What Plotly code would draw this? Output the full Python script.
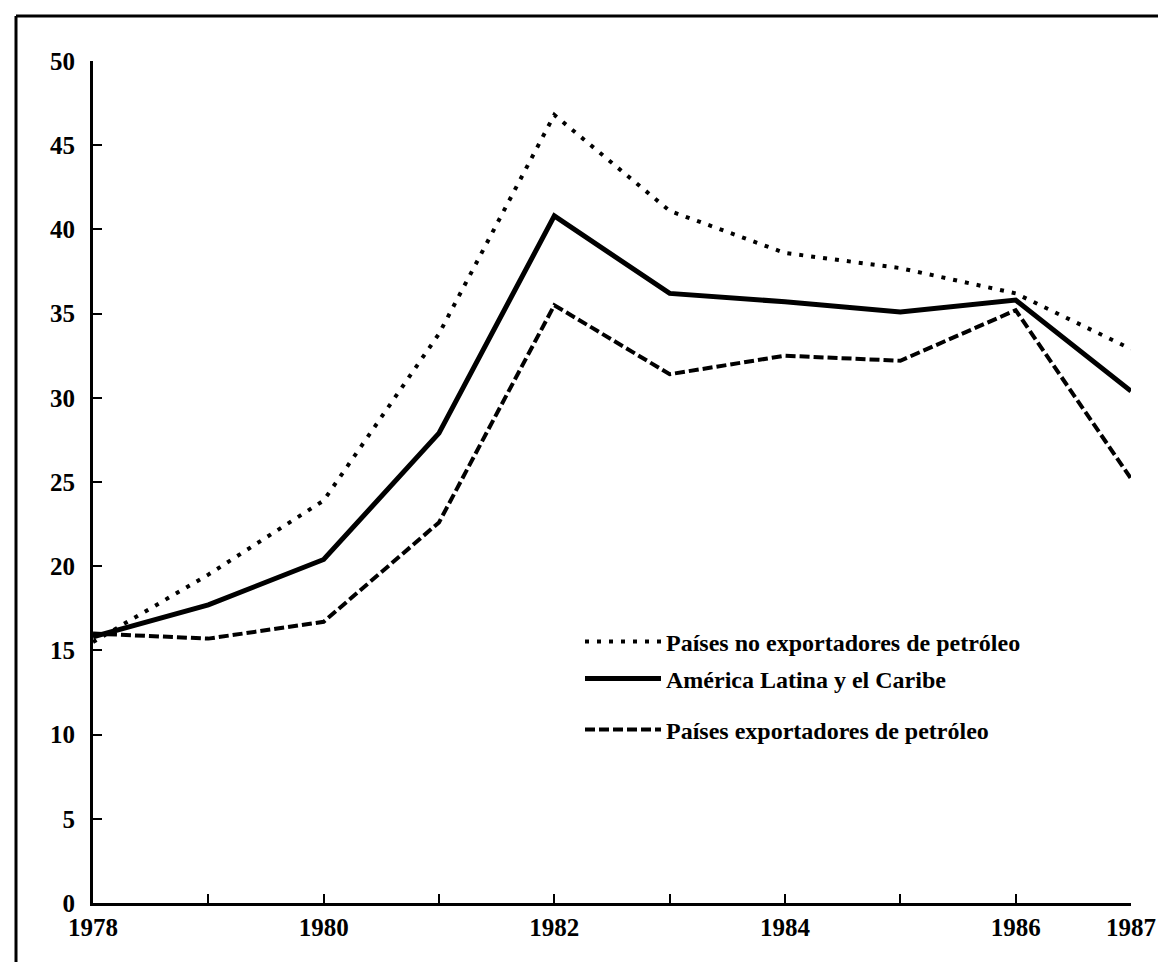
import plotly.graph_objects as go

years = [1978, 1979, 1980, 1981, 1982, 1983, 1984, 1985, 1986, 1987]
no_exportadores = [15.5, 19.5, 23.9, 33.8, 46.8, 41.1, 38.6, 37.7, 36.2, 32.9]
america_latina = [15.8, 17.7, 20.4, 27.9, 40.8, 36.2, 35.7, 35.1, 35.8, 30.4]
exportadores = [16.0, 15.7, 16.7, 22.6, 35.5, 31.4, 32.5, 32.2, 35.2, 25.2]

names = ["Países no exportadores de petróleo",
         "América Latina y el Caribe",
         "Países exportadores de petróleo"]

x_tickvals = years
x_ticktext = ["1978", "", "1980", "", "1982", "", "1984", "", "1986", "1987"]
y_tickvals = [0, 5, 10, 15, 20, 25, 30, 35, 40, 45, 50]

W, H = 1166, 962
L, R, T, B = 85, 43, 53, 67
pw, ph = W - L - R, H - T - B

def px2paper(px, py):
    return (px - L) / pw, (H - B - py) / ph

FAM = "Liberation Serif, Times New Roman, serif"
tick_font = dict(family=FAM, size=25, color="black", weight="bold")
leg_font = dict(family=FAM, size=24, color="black", weight="bold")

fig = go.Figure()
fig.add_trace(go.Scatter(x=years, y=no_exportadores, mode="lines", name=names[0],
                         line=dict(color="black", width=4, dash="4px,8px"), legend="legend"))
fig.add_trace(go.Scatter(x=years, y=america_latina, mode="lines", name=names[1],
                         line=dict(color="black", width=5), legend="legend2"))
fig.add_trace(go.Scatter(x=years, y=exportadores, mode="lines", name=names[2],
                         line=dict(color="black", width=4, dash="10px,4px"), legend="legend3"))

leg_common = dict(xanchor="left", yanchor="middle", bgcolor="rgba(0,0,0,0)",
                  itemwidth=76, font=leg_font)
lx, ly1 = px2paper(572, 634)
_, ly2 = px2paper(572, 671)
_, ly3 = px2paper(572, 722)

fig.update_layout(
    width=W, height=H,
    paper_bgcolor="white", plot_bgcolor="white",
    margin=dict(l=L, r=R, t=T, b=B),
    showlegend=True,
    legend=dict(x=lx, y=ly1, **leg_common),
    legend2=dict(x=lx, y=ly2, **leg_common),
    legend3=dict(x=lx, y=ly3, **leg_common),
    xaxis=dict(range=[1978, 1987], tickmode="array", tickvals=x_tickvals, ticktext=x_ticktext,
               showline=True, linecolor="black", linewidth=3, ticks="inside", ticklen=9,
               tickwidth=2, tickcolor="black", showgrid=False, zeroline=False,
               tickfont=tick_font, ticklabelstandoff=0),
    yaxis=dict(range=[0, 50], tickmode="array", tickvals=y_tickvals,
               showline=True, linecolor="black", linewidth=3, ticks="inside", ticklen=9,
               tickwidth=2, tickcolor="black", showgrid=False, zeroline=False,
               tickfont=tick_font, ticklabelstandoff=10),
)

# scan frame (top and left border)
fig.add_shape(type="line", xref="paper", yref="paper",
              x0=px2paper(8, 0)[0], x1=px2paper(W, 0)[0],
              y0=px2paper(0, 8)[1], y1=px2paper(0, 8)[1],
              line=dict(color="black", width=3))
fig.add_shape(type="line", xref="paper", yref="paper",
              x0=px2paper(8, 0)[0], x1=px2paper(8, 0)[0],
              y0=px2paper(0, 8)[1], y1=px2paper(0, H)[1],
              line=dict(color="black", width=3))

fig.write_html("out.html")
